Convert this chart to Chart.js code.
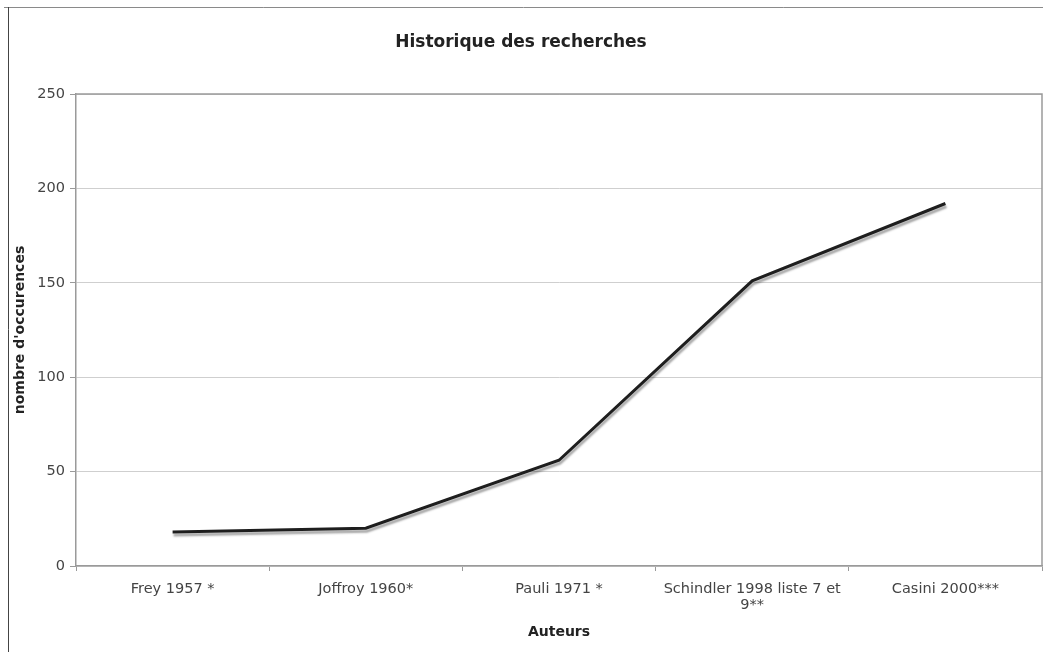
<!DOCTYPE html>
<html>
<head>
<meta charset="utf-8">
<script src="https://cdn.jsdelivr.net/npm/chart.js@4/dist/chart.umd.min.js"></script>
<style>
    html, body { margin: 0; padding: 0; background: #fff; }
    #wrap { width: 1043px; height: 652px; }
</style>
</head>
<body>
<div id="wrap"><canvas id="historyChart" width="1043" height="652"></canvas></div>
<script>
// ================= DATA =================
const authors = [
    "Frey 1957 *",
    "Joffroy 1960*",
    "Pauli 1971 *",
    ["Schindler 1998 liste 7 et", "9**"],
    "Casini 2000***"
];
const occurrences = [18, 20, 56, 151, 192];
const yTicks = [0, 50, 100, 150, 200, 250];

const FONT = "'DejaVu Sans', Verdana, sans-serif";

// frame around the figure + border of the plot area
const framePlugin = {
    id: "frame",
    beforeDraw(chart) {
        const ctx = chart.ctx;
        ctx.save();
        ctx.fillStyle = "#fff";
        ctx.fillRect(0, 0, chart.width, chart.height);
        ctx.lineWidth = 1;
        ctx.strokeStyle = "#8a8a8a";
        ctx.beginPath();
        ctx.moveTo(4, 7.5);
        ctx.lineTo(chart.width, 7.5);
        ctx.stroke();
        ctx.strokeStyle = "#444";
        ctx.beginPath();
        ctx.moveTo(8.5, 7);
        ctx.lineTo(8.5, chart.height);
        ctx.stroke();
        ctx.restore();
    },
    afterDatasetsDraw(chart) {
        const a = chart.chartArea;
        const ctx = chart.ctx;
        ctx.save();
        ctx.strokeStyle = "#9a9a9a";
        ctx.lineWidth = 1.5;
        ctx.beginPath();
        ctx.moveTo(a.left, a.top);
        ctx.lineTo(a.right, a.top);
        ctx.lineTo(a.right, a.bottom);
        ctx.stroke();
        ctx.restore();
    }
};

// soft grey shadow under the line
const shadowPlugin = {
    id: "lineShadow",
    beforeDatasetDraw(chart) {
        const ctx = chart.ctx;
        ctx.save();
        ctx.shadowColor = "rgba(0,0,0,0.35)";
        ctx.shadowOffsetX = 1;
        ctx.shadowOffsetY = 3;
        ctx.shadowBlur = 2;
    },
    afterDatasetDraw(chart) {
        chart.ctx.restore();
    }
};

const ctx = document.getElementById("historyChart").getContext("2d");

new Chart(ctx, {
    type: "line",
    data: {
        labels: authors,
        datasets: [{
            label: "nombre d'occurences",
            data: occurrences,
            borderColor: "#1e1e1e",
            borderWidth: 3,
            pointRadius: 0,
            tension: 0,
            fill: false
        }]
    },
    options: {
        responsive: false,
        animation: false,
        layout: { padding: { left: 0, right: 1, top: 0, bottom: 0 } },
        plugins: {
            legend: { display: false },
            tooltip: { enabled: false },
            title: {
                display: true,
                text: "Historique des recherches",
                color: "#222",
                font: { family: FONT, size: 17, weight: "bold" },
                padding: { top: 32, bottom: 41.6 }
            }
        },
        scales: {
            x: {
                offset: true,
                afterFit(scale) { scale.height = 86; },
                grid: {
                    offset: true,
                    drawOnChartArea: false,
                    drawTicks: true,
                    tickLength: 5,
                    color: "#9a9a9a"
                },
                border: { color: "#9a9a9a", width: 1.5 },
                ticks: {
                    color: "#444",
                    font: { family: FONT, size: 14.5, lineHeight: 1.1 },
                    padding: 10,
                    maxRotation: 0,
                    autoSkip: false
                },
                title: {
                    display: true,
                    text: "Auteurs",
                    color: "#222",
                    font: { family: FONT, size: 14, weight: "bold" },
                    padding: { top: 0, bottom: 11.6 }
                }
            },
            y: {
                min: 0,
                max: 250,
                afterFit(scale) { scale.width = 76; },
                afterBuildTicks(scale) {
                    scale.ticks = yTicks.map(v => ({ value: v }));
                },
                grid: {
                    color: "#cfcfcf",
                    tickLength: 6,
                    tickColor: "#9a9a9a"
                },
                border: { color: "#9a9a9a", width: 1.5 },
                ticks: {
                    color: "#444",
                    font: { family: FONT, size: 14.5 },
                    padding: 5
                },
                title: {
                    display: true,
                    text: "nombre d'occurences",
                    color: "#222",
                    font: { family: FONT, size: 14, weight: "bold" },
                    padding: { top: 12, bottom: 0 }
                }
            }
        }
    },
    plugins: [framePlugin, shadowPlugin]
});
</script>
</body>
</html>
